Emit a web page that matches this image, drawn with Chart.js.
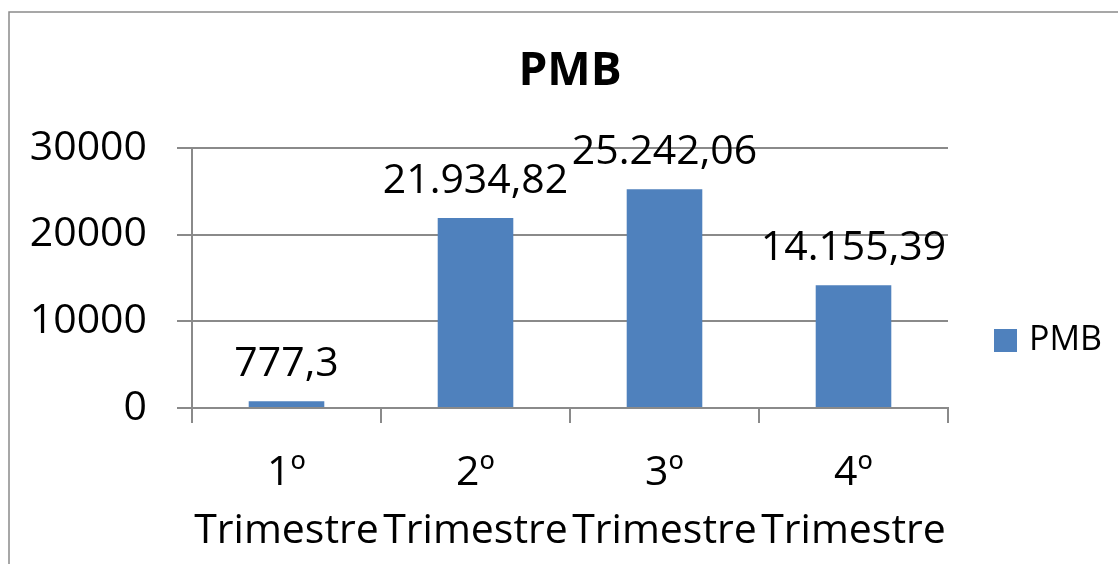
<!DOCTYPE html>
<html>
<head>
<meta charset="utf-8">
<script src="https://cdn.jsdelivr.net/npm/chart.js@4/dist/chart.umd.min.js"></script>
<style>
  html, body { margin: 0; padding: 0; background: #fff; }
  #wrap { width: 1118px; height: 564px; position: relative; }
</style>
</head>
<body>
<div id="wrap"><canvas id="myChart"></canvas></div>
<script>
const chartTitle = 'PMB';
const seriesName = 'PMB';
const categories = [['1º', 'Trimestre'], ['2º', 'Trimestre'], ['3º', 'Trimestre'], ['4º', 'Trimestre']];
const pmbValues = [777.3, 21934.82, 25242.06, 14155.39];
const yTicks = [0, 10000, 20000, 30000];

const FONT = '"Open Sans", Lato, sans-serif';
const GRID = '#8a8a8a';
const BAR = '#4f81bd';

// 21934.82 -> "21.934,82"
function fmt(v) {
    const parts = v.toString().split('.');
    const intPart = parts[0].replace(/\B(?=(\d{3})+(?!\d))/g, '.');
    return parts.length > 1 ? intPart + ',' + parts[1] : intPart;
}

const extras = {
    id: 'extras',
    beforeDraw(chart) {
        const ctx = chart.ctx;
        ctx.save();
        ctx.fillStyle = '#fff';
        ctx.fillRect(0, 0, chart.width, chart.height);
        ctx.strokeStyle = GRID;
        ctx.lineWidth = 1.5;
        ctx.strokeRect(9, 12, 1130, 600);
        ctx.restore();
    },
    afterDatasetsDraw(chart) {
        const ctx = chart.ctx;
        const meta = chart.getDatasetMeta(0);
        ctx.save();
        ctx.fillStyle = '#000';
        ctx.font = '41px ' + FONT;
        ctx.textAlign = 'center';
        ctx.textBaseline = 'alphabetic';
        meta.data.forEach((bar, i) => {
            ctx.fillText(fmt(chart.data.datasets[0].data[i]), bar.x, bar.y - 25);
        });

        // title
        ctx.font = 'bold 46px ' + FONT;
        ctx.fillText(chartTitle, 570, 85);

        // legend
        const ds = chart.data.datasets[0];
        ctx.fillStyle = ds.backgroundColor;
        ctx.fillRect(994, 329, 23, 23);
        ctx.fillStyle = '#000';
        ctx.font = '34px ' + FONT;
        ctx.textAlign = 'left';
        ctx.textBaseline = 'middle';
        ctx.fillText(ds.label, 1029, 340);
        ctx.restore();
    }
};

const config = {
    type: 'bar',
    data: {
        labels: categories,
        datasets: [{
            label: seriesName,
            data: pmbValues,
            backgroundColor: BAR,
            borderWidth: 0,
            barPercentage: 0.4,
            categoryPercentage: 1.0
        }]
    },
    options: {
        responsive: true,
        maintainAspectRatio: false,
        animation: false,
        layout: { padding: { left: 0, right: 170, top: 148, bottom: 0 } },
        plugins: {
            legend: { display: false },
            title: { display: false },
            tooltip: { enabled: false }
        },
        scales: {
            x: {
                offset: true,
                grid: {
                    offset: true,
                    drawOnChartArea: false,
                    color: GRID,
                    lineWidth: 2,
                    tickLength: 15
                },
                border: { display: true, color: GRID, width: 2 },
                ticks: {
                    color: '#000',
                    font: { family: FONT, size: 41, lineHeight: 1.4 },
                    padding: 22,
                    maxRotation: 0,
                    autoSkip: false
                },
                afterFit(scale) { scale.height = 156; }
            },
            y: {
                min: 0,
                max: 30000,
                afterBuildTicks(scale) {
                    scale.ticks = yTicks.map(v => ({ value: v }));
                },
                grid: {
                    color: GRID,
                    lineWidth: 2,
                    tickLength: 15
                },
                border: { display: true, color: GRID, width: 2 },
                ticks: {
                    color: '#000',
                    font: { family: FONT, size: 41 },
                    padding: 30,
                    callback: v => String(v)
                },
                afterFit(scale) { scale.width = 192; }
            }
        }
    },
    plugins: [extras]
};

const myChart = new Chart(document.getElementById('myChart'), config);
</script>
</body>
</html>
